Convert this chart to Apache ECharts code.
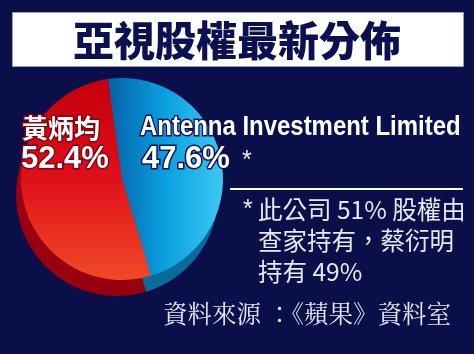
<!DOCTYPE html>
<html>
<head>
<meta charset="utf-8">
<script src="https://cdn.jsdelivr.net/npm/echarts@6/dist/echarts.min.js"></script>
<style>
html, body { margin: 0; padding: 0; background: #0a0f4a; }
#chart { width: 474px; height: 354px; }
</style>
</head>
<body>
<div id="chart"></div>
<script>
var titleText = '亞視股權最新分佈';
var sliceNames = ['Antenna Investment Limited', '黃炳均'];
var sliceValues = [47.6, 52.4];
var noteLines = ['此公司 51% 股權由', '查家持有，蔡衍明', '持有 49%'];
var sourceText = '資料來源 ：《蘋果》資料室';

var cjk = '"Noto Sans CJK TC", "Noto Sans CJK SC", sans-serif';
var latin = '"Liberation Sans", Arial, sans-serif';

var chart = echarts.init(document.getElementById('chart'));

// top face colours / side colours
var topColors = [
    { type: 'linear', x: 0, y: 0, x2: 1, y2: 0, colorStops: [
        { offset: 0, color: '#0562a8' }, { offset: 0.5, color: '#0aa0e0' }, { offset: 1, color: '#3cc8f2' }] },
    { type: 'linear', x: 0, y: 0, x2: 0, y2: 1, colorStops: [
        { offset: 0, color: '#c4000c' }, { offset: 0.5, color: '#e0101a' }, { offset: 1, color: '#f04a28' }] }
];
var sideColors = ['#0a6a9c', '#980010'];

function pieData(colors) {
    var arr = [];
    for (var i = 0; i < sliceNames.length; i++) {
        arr.push({ name: sliceNames[i], value: sliceValues[i], itemStyle: { color: colors[i] } });
    }
    return arr;
}

// text with an outline drawn behind it
function outlined(x, y, text, font, fill, stroke, lw, sx) {
    sx = sx || 1;
    return [
        { type: 'text', x: x, y: y, z: 100, scaleX: sx, style: { text: text, font: font, fill: stroke, stroke: stroke, lineWidth: lw } },
        { type: 'text', x: x, y: y, z: 101, scaleX: sx, style: { text: text, font: font, fill: fill } }
    ];
}

var graphics = [
    { type: 'rect', shape: { x: 12.5, y: 12.5, width: 451, height: 54 }, z: 50,
      style: { fill: '#ffffff', stroke: '#9a9ac8', lineWidth: 1 } },
    { type: 'text', x: 237, y: 40, z: 60,
      style: { text: titleText, font: '900 41px ' + cjk, fill: '#0b1150', align: 'center', verticalAlign: 'middle' } },
    { type: 'line', shape: { x1: 230, y1: 189, x2: 463, y2: 189 }, z: 60,
      style: { stroke: '#ffffff', lineWidth: 2 } },
    // asterisks
    { type: 'text', x: 243, y: 198, z: 60, style: { text: '*', font: '25px ' + latin, fill: '#e8e8f2' } },
    { type: 'text', x: 242, y: 149, z: 60, style: { text: '*', font: '25px ' + latin, fill: '#e8e8f2' } }
];

graphics = graphics.concat(
    outlined(22, 115, sliceNames[1], 'bold 26px ' + cjk, '#ffffff', '#8a0010', 3),
    outlined(21, 144, sliceValues[1].toFixed(1) + '%', 'bold 31px ' + latin, '#ffffff', '#8a0010', 3),
    outlined(140, 113, sliceNames[0], 'bold 28px ' + latin, '#ffffff', '#0b1150', 3, 0.855),
    outlined(142, 144, sliceValues[0].toFixed(1) + '%', 'bold 31px ' + latin, '#ffffff', '#0b1150', 3)
);

for (var k = 0; k < noteLines.length; k++) {
    graphics.push({ type: 'text', x: 258, y: 197 + k * 31, z: 60,
        style: { text: noteLines[k], font: '24.5px ' + cjk, fill: '#e8e8f2' } });
}
graphics.push({ type: 'text', x: 163, y: 301, z: 60,
    style: { text: sourceText, font: '24.5px "Noto Serif CJK TC", ' + cjk, fill: '#e8e8f2' } });

var option = {
    backgroundColor: '#0a0f4a',
    animation: false,
    graphic: graphics,
    series: [
        {
            type: 'pie', silent: true, z: 1,
            center: [117, 195], radius: 101,
            startAngle: 98, clockwise: true,
            label: { show: false }, labelLine: { show: false },
            data: pieData(sideColors)
        },
        {
            type: 'pie', silent: true, z: 2,
            center: [122, 179], radius: 101,
            startAngle: 98, clockwise: true,
            label: { show: false }, labelLine: { show: false },
            data: pieData(topColors)
        }
    ]
};

chart.setOption(option);
</script>
</body>
</html>
